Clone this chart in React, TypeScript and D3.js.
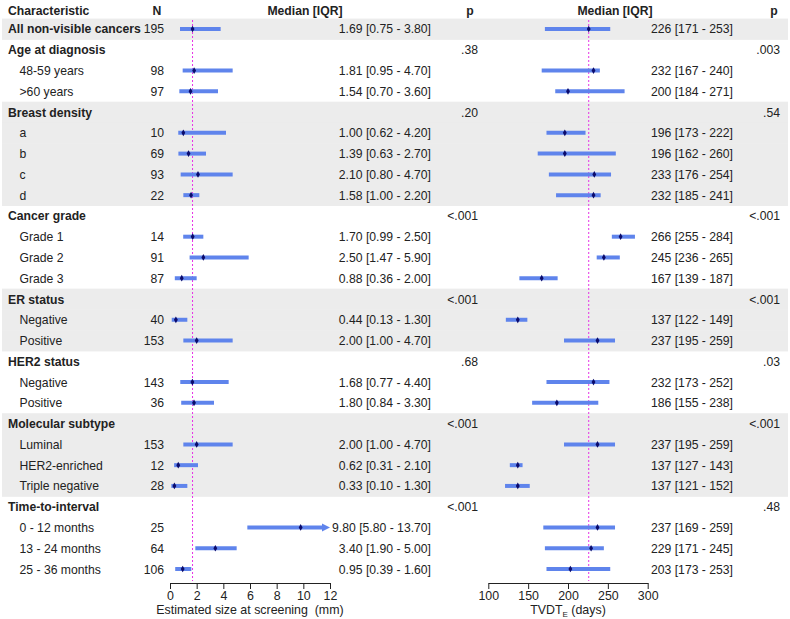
import React, { useEffect, useRef } from "react";
import * as d3 from "d3";

// row layout: group headers (g) and sub rows (s)
const labels = [
  "All non-visible cancers", "Age at diagnosis", "48-59 years", ">60 years",
  "Breast density", "a", "b", "c", "d",
  "Cancer grade", "Grade 1", "Grade 2", "Grade 3",
  "ER status", "Negative", "Positive",
  "HER2 status", "Negative", "Positive",
  "Molecular subtype", "Luminal", "HER2-enriched", "Triple negative",
  "Time-to-interval", "0 - 12 months", "13 - 24 months", "25 - 36 months",
];
const kinds = [
  "t", "g", "s", "s", "g", "s", "s", "s", "s", "g", "s", "s", "s",
  "g", "s", "s", "g", "s", "s", "g", "s", "s", "s", "g", "s", "s", "s",
];
const shaded = [
  1, 0, 0, 0, 1, 1, 1, 1, 1, 0, 0, 0, 0, 1, 1, 1, 0, 0, 0, 1, 1, 1, 1, 0, 0, 0, 0,
];
const nVals = [
  195, null, 98, 97, null, 10, 69, 93, 22, null, 14, 91, 87, null, 40, 153,
  null, 143, 36, null, 153, 12, 28, null, 25, 64, 106,
];
// estimated size at screening (mm)
const sizeMed = [1.69, null, 1.81, 1.54, null, 1.0, 1.39, 2.1, 1.58, null, 1.7, 2.5, 0.88, null, 0.44, 2.0, null, 1.68, 1.8, null, 2.0, 0.62, 0.33, null, 9.8, 3.4, 0.95];
const sizeQ1 = [0.75, null, 0.95, 0.7, null, 0.62, 0.63, 0.8, 1.0, null, 0.99, 1.47, 0.36, null, 0.13, 1.0, null, 0.77, 0.84, null, 1.0, 0.31, 0.1, null, 5.8, 1.9, 0.39];
const sizeQ3 = [3.8, null, 4.7, 3.6, null, 4.2, 2.7, 4.7, 2.2, null, 2.5, 5.9, 2.0, null, 1.3, 4.7, null, 4.4, 3.3, null, 4.7, 2.1, 1.3, null, 13.7, 5.0, 1.6];
const sizeP = [null, ".38", null, null, ".20", null, null, null, null, "<.001", null, null, null, "<.001", null, null, ".68", null, null, "<.001", null, null, null, "<.001", null, null, null];
// TVDT_E (days)
const tvdtMed = [226, null, 232, 200, null, 196, 196, 233, 232, null, 266, 245, 167, null, 137, 237, null, 232, 186, null, 237, 137, 137, null, 237, 229, 203];
const tvdtQ1 = [171, null, 167, 184, null, 173, 162, 176, 185, null, 255, 236, 139, null, 122, 195, null, 173, 155, null, 195, 127, 121, null, 169, 171, 173];
const tvdtQ3 = [253, null, 240, 271, null, 222, 260, 254, 241, null, 284, 265, 187, null, 149, 259, null, 252, 238, null, 259, 143, 152, null, 259, 245, 253];
const tvdtP = [null, ".003", null, null, ".54", null, null, null, null, "<.001", null, null, null, "<.001", null, null, ".03", null, null, "<.001", null, null, null, ".48", null, null, null];

const sizeTicks = [0, 2, 4, 6, 8, 10, 12];
const tvdtTicks = [100, 150, 200, 250, 300];

const W = 790;
const H = 619;
const FONT = "'Liberation Sans', Arial, sans-serif";
const BAR = "#5f84ec";
const DOT = "#0b0b6b";
const REF = "#e632e6";

export default function App() {
  const axL = useRef(null);
  const axR = useRef(null);

  const y = d3.scaleBand().domain(d3.range(labels.length)).range([18.6, 579.4]).padding(0);
  const xL = d3.scaleLinear().domain([0, 12]).range([170, 330]);
  const xR = d3.scaleLinear().domain([100, 300]).range([488.3, 647.7]);
  const cy = (i) => y(i) + y.bandwidth() / 2;
  const diamond = d3.symbol(d3.symbolDiamond, 13)();

  useEffect(() => {
    document.body.style.margin = "0";
    const style = (g) => {
      g.selectAll("text").attr("font-size", 12.4).attr("font-family", FONT).attr("fill", "#222");
      g.selectAll("line,path").attr("stroke", "#222");
      g.select(".domain").attr("stroke-width", 1);
    };
    d3.select(axL.current)
      .call(d3.axisBottom(xL).tickValues(sizeTicks).tickSize(6).tickSizeOuter(0).tickPadding(2))
      .call(style);
    d3.select(axR.current)
      .call(d3.axisBottom(xR).tickValues(tvdtTicks).tickSize(6).tickSizeOuter(0).tickPadding(2))
      .call(style);
  }, []);

  const yAxis = 583;

  return (
    <svg width={W} height={H} style={{ display: "block", background: "#fff" }} fontFamily={FONT} fontSize={12.2}>
      {labels.map((_, i) =>
        shaded[i] ? (
          <rect key={"b" + i} x={2} y={y(i)} width={786} height={y.bandwidth() + 0.5} fill="#ececec" />
        ) : null
      )}

      {/* header */}
      <g fontWeight="bold" fill="#222">
        <text x={8} y={15}>Characteristic</text>
        <text x={157} y={15} textAnchor="middle">N</text>
        <text x={305} y={15} textAnchor="middle">Median [IQR]</text>
        <text x={470} y={15} textAnchor="middle">p</text>
        <text x={615} y={15} textAnchor="middle">Median [IQR]</text>
        <text x={774} y={15} textAnchor="middle">p</text>
      </g>

      {/* reference lines at overall medians */}
      <line x1={xL(sizeMed[0])} x2={xL(sizeMed[0])} y1={20} y2={yAxis - 2} stroke={REF} strokeWidth={1} strokeDasharray="2,2" />
      <line x1={xR(tvdtMed[0])} x2={xR(tvdtMed[0])} y1={20} y2={yAxis - 2} stroke={REF} strokeWidth={1} strokeDasharray="2,2" />

      {labels.map((lab, i) => {
        const yy = cy(i);
        const tb = yy + 4.5;
        const sub = kinds[i] === "s";
        const hasL = sizeMed[i] != null;
        const hiL = hasL ? Math.min(sizeQ3[i], 12) : 0;
        const clipped = hasL && sizeQ3[i] > 12;
        return (
          <g key={"r" + i}>
            <text x={sub ? 19.5 : 8} y={tb} fontWeight={sub ? "normal" : "bold"} fill="#222">{lab}</text>
            {nVals[i] != null && <text x={164} y={tb} textAnchor="end" fill="#222">{nVals[i]}</text>}
            {sizeP[i] && <text x={478} y={tb} textAnchor="end" fill="#222">{sizeP[i]}</text>}
            {tvdtP[i] && <text x={780} y={tb} textAnchor="end" fill="#222">{tvdtP[i]}</text>}
            {hasL && (
              <g>
                <line x1={xL(sizeQ1[i])} x2={clipped ? xL(hiL) - 5 : xL(hiL)} y1={yy} y2={yy} stroke={BAR} strokeWidth={4} />
                {clipped && (
                  <path d={`M${xL(12)},${yy} l-8,-4 l0,8 z`} fill={BAR} />
                )}
                <path d={diamond} transform={`translate(${xL(sizeMed[i])},${yy})`} fill={DOT} />
                <text x={431} y={tb} textAnchor="end" fill="#222">
                  {`${sizeMed[i].toFixed(2)} [${sizeQ1[i].toFixed(2)} - ${sizeQ3[i].toFixed(2)}]`}
                </text>
              </g>
            )}
            {tvdtMed[i] != null && (
              <g>
                <line x1={xR(tvdtQ1[i])} x2={xR(tvdtQ3[i])} y1={yy} y2={yy} stroke={BAR} strokeWidth={4} />
                <path d={diamond} transform={`translate(${xR(tvdtMed[i])},${yy})`} fill={DOT} />
                <text x={733} y={tb} textAnchor="end" fill="#222">
                  {`${tvdtMed[i]} [${tvdtQ1[i]} - ${tvdtQ3[i]}]`}
                </text>
              </g>
            )}
          </g>
        );
      })}

      <g ref={axL} transform={`translate(0,${yAxis})`} />
      <g ref={axR} transform={`translate(0,${yAxis})`} />
      <text x={250} y={614} textAnchor="middle" fill="#222" fontSize={12.4} style={{ whiteSpace: "pre" }}>
        {"Estimated size at screening  (mm)"}
      </text>
      <text x={568} y={614} textAnchor="middle" fill="#222" fontSize={12.4} style={{ whiteSpace: "pre" }}>
        TVDT<tspan fontSize={8} dy={3}>E</tspan><tspan dy={-3}> (days)</tspan>
      </text>
    </svg>
  );
}
